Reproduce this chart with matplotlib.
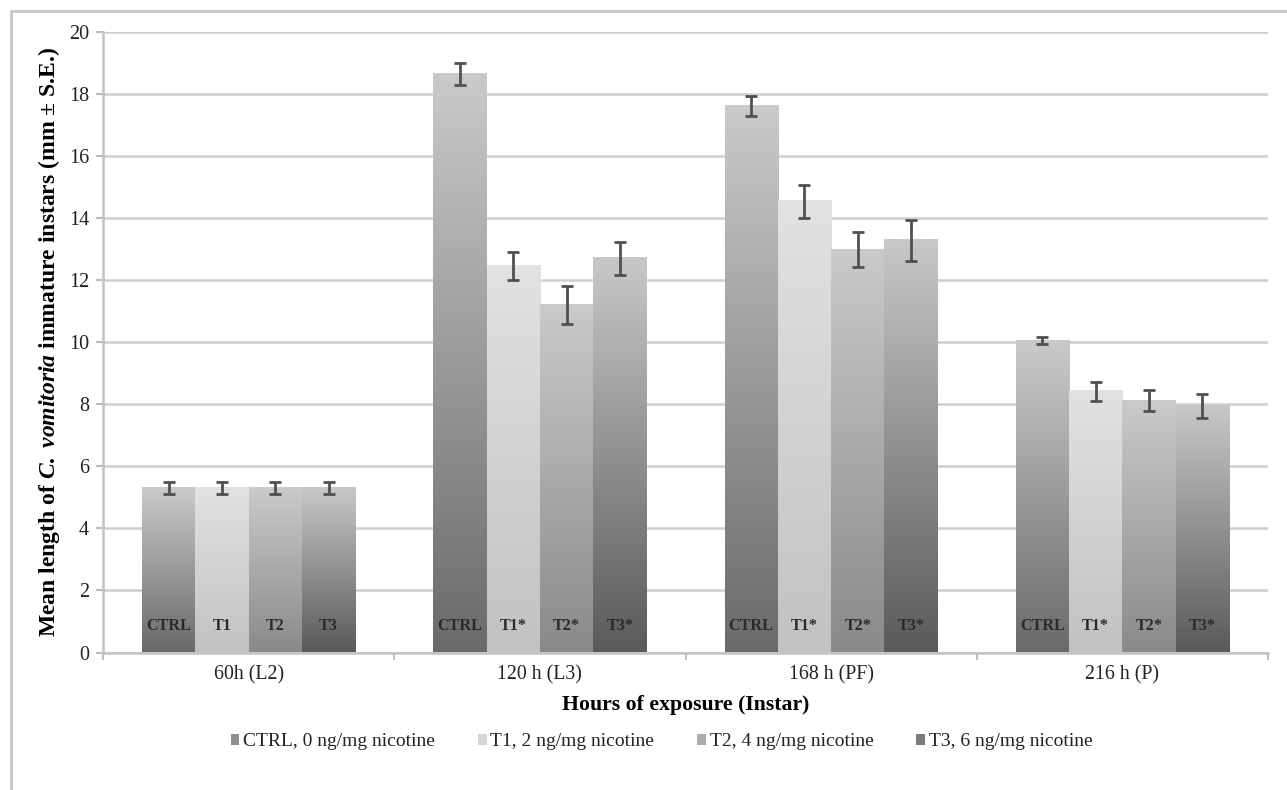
import numpy as np
import matplotlib
matplotlib.use("Agg")
import matplotlib.pyplot as plt
from matplotlib.colors import LinearSegmentedColormap
from matplotlib.patches import Rectangle

plt.rcParams['font.family'] = ['Liberation Serif', 'DejaVu Serif']
plt.rcParams['mathtext.fontset'] = 'custom'
plt.rcParams['mathtext.rm'] = 'Liberation Serif:bold'
plt.rcParams['mathtext.it'] = 'Liberation Serif:italic:bold'

# ---- data ----
categories = ["60h (L2)", "120 h (L3)", "168 h (PF)", "216 h (P)"]
series = ["CTRL, 0 ng/mg nicotine", "T1, 2 ng/mg nicotine",
          "T2, 4 ng/mg nicotine", "T3, 6 ng/mg nicotine"]
ctrl = [5.3, 18.65, 17.62, 10.05]
t1 = [5.3, 12.45, 14.55, 8.42]
t2 = [5.3, 11.2, 12.98, 8.12]
t3 = [5.3, 12.7, 13.28, 7.94]
ctrl_err = [0.2, 0.35, 0.32, 0.12]
t1_err = [0.2, 0.45, 0.53, 0.30]
t2_err = [0.2, 0.6, 0.56, 0.35]
t3_err = [0.2, 0.53, 0.65, 0.38]
bar_labels = [["CTRL", "T1", "T2", "T3"],
              ["CTRL", "T1*", "T2*", "T3*"],
              ["CTRL", "T1*", "T2*", "T3*"],
              ["CTRL", "T1*", "T2*", "T3*"]]

values = [ctrl, t1, t2, t3]
errors = [ctrl_err, t1_err, t2_err, t3_err]
# gradient (top colour, bottom colour) per series
grad = [("#cacaca", "#6a6a6a"), ("#e2e2e2", "#c2c2c2"),
        ("#cacaca", "#8a8a8a"), ("#c8c8c8", "#5a5a5a")]
legend_cols = ["#8e8e8e", "#d6d6d6", "#ababab", "#7a7a7a"]

W, H = 1287, 790
fig = plt.figure(figsize=(W / 100, H / 100), dpi=100)
ax = fig.add_axes([103 / W, 1 - 652.5 / H, (1268 - 103) / W, (652.5 - 32) / H])

# outer frame
fig.patches.append(Rectangle((11 / W, -0.1), 1.2, 1 - 11 / H + 0.1, transform=fig.transFigure,
                             fill=False, edgecolor="#c9c9c9", linewidth=2.2, zorder=0))

x = np.arange(len(categories))
bw = 0.183
offsets = (np.arange(4) - 1.5) * bw
grad_arr = np.linspace(1, 0, 256).reshape(-1, 1)

for s in range(4):
    cmap = LinearSegmentedColormap.from_list(f"g{s}", [grad[s][1], grad[s][0]])
    bars = ax.bar(x + offsets[s], values[s], bw, color="none", edgecolor="none", zorder=2)
    for i, b in enumerate(bars):
        x0, y0 = b.get_x(), b.get_y()
        w, h = b.get_width(), b.get_height()
        ax.imshow(grad_arr, cmap=cmap, aspect="auto", extent=(x0, x0 + w, y0, y0 + h),
                  origin="upper", zorder=2, interpolation="bilinear", vmin=0, vmax=1)
        ax.text(x0 + w / 2, 0.85, bar_labels[i][s], ha="center", va="center",
                fontsize=11.6, fontweight="bold", color="#2a2a2a", zorder=4)
    ax.errorbar(x + offsets[s], values[s], yerr=errors[s], fmt="none",
                ecolor="#505050", elinewidth=2, capsize=4.5, capthick=2, zorder=3)

ax.set_xlim(-0.5, 3.5)
ax.set_ylim(0, 20)
ax.set_yticks(np.arange(0, 21, 2))
ax.yaxis.grid(True, color="#cfcfcf", linewidth=1.8, zorder=0)
ax.set_axisbelow(True)
ax.set_xticks(x)
ax.set_xticklabels(categories, fontsize=14.3, color="#222222")
ax.set_xticks(np.arange(-0.5, 4, 1), minor=True)
ax.tick_params(axis="x", which="major", length=0, pad=9)
ax.tick_params(axis="x", which="minor", length=5, width=1.5, color="#bdbdbd")
ax.tick_params(axis="y", length=5, width=1.5, color="#bdbdbd", labelsize=14.5,
               labelcolor="#222222", pad=5)
for sp in ["top", "right"]:
    ax.spines[sp].set_visible(False)
for sp in ["left", "bottom"]:
    ax.spines[sp].set_color("#c2c2c2")
    ax.spines[sp].set_linewidth(1.8)

ax.set_xlabel("Hours of exposure (Instar)", fontsize=15.7, fontweight="bold", labelpad=8)
ax.set_ylabel(r"Mean length of $\mathit{C.\ vomitoria}$ immature instars (mm ± S.E.)",
              fontsize=17, fontweight="bold", labelpad=5)

handles = [Rectangle((0, 0), 1, 1, facecolor=c, edgecolor="none") for c in legend_cols]
fig.legend(handles, series, loc="center", bbox_to_anchor=(0.514, 1 - 742 / H), ncol=4,
           frameon=False, fontsize=14, handlelength=0.45, handleheight=0.45,
           handletextpad=0.2, columnspacing=2.2, labelcolor="#222222")

fig.savefig("out.png", dpi=100)
